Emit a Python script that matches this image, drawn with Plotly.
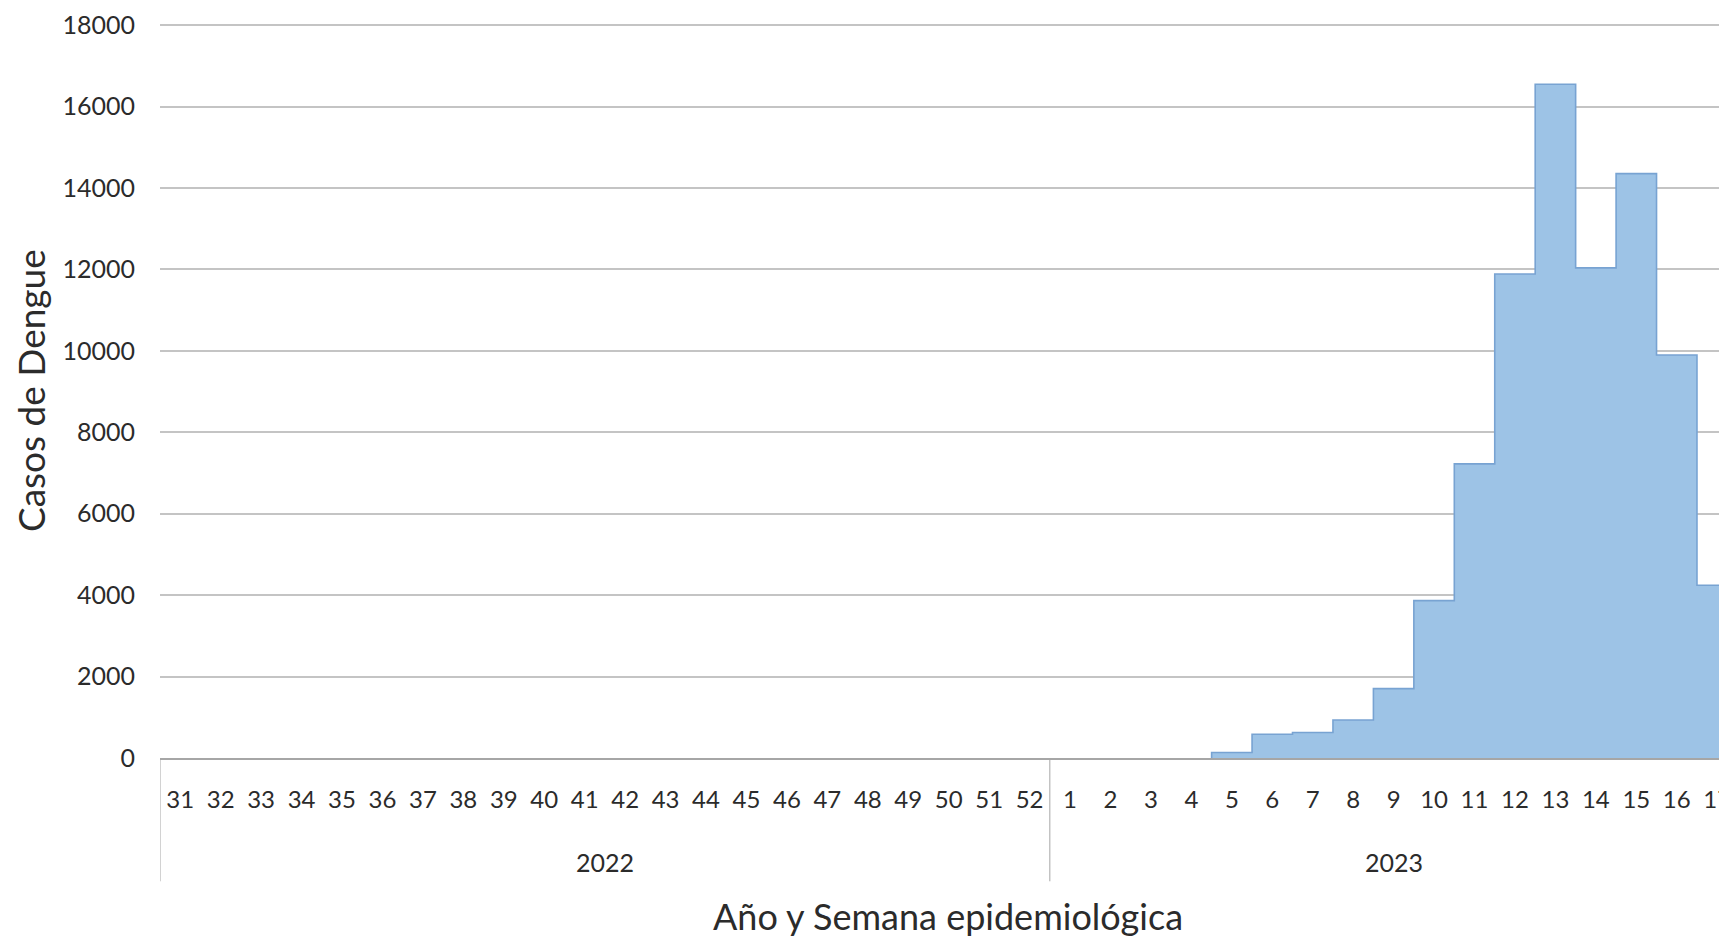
import plotly.graph_objects as go

# Semanas epidemiológicas (2022: 31-52, 2023: 1-17)
weeks_2022 = ["31", "32", "33", "34", "35", "36", "37", "38", "39", "40", "41",
              "42", "43", "44", "45", "46", "47", "48", "49", "50", "51", "52"]
weeks_2023 = ["1", "2", "3", "4", "5", "6", "7", "8", "9", "10", "11", "12",
              "13", "14", "15", "16", "17"]

cases_2022 = [0, 0, 0, 0, 0, 0, 0, 0, 0, 0, 0,
              0, 0, 0, 0, 0, 0, 0, 0, 0, 0, 0]
cases_2023 = [0, 0, 0, 0, 135, 585, 625, 935, 1705, 3865, 7225, 11890,
              16550, 12040, 14355, 9900, 4245]

years = ["2022", "2023"]
y_ticks = [0, 2000, 4000, 6000, 8000, 10000, 12000, 14000, 16000, 18000]

labels = weeks_2022 + weeks_2023
cases = cases_2022 + cases_2023
idx = list(range(len(labels)))

FONT = "Lato"
TXT = "#2b2b2b"
GRID = "#c4c4c4"

fig = go.Figure()

# filled columns, no gaps (histogram look)
fig.add_trace(go.Bar(
    x=idx,
    y=cases,
    marker=dict(color="#9dc3e6", line=dict(width=0)),
    hovertemplate="Semana %{text}: %{y}<extra></extra>",
    text=labels,
    textposition="none",
))

# outline only along the outer step edge, starting at the first non-zero week
first = next(i for i, v in enumerate(cases) if v > 0)
edge_x = [i - 0.5 for i in idx[first:]] + [idx[-1] + 0.5]
edge_y = cases[first:] + [cases[-1]]
fig.add_trace(go.Scatter(
    x=[edge_x[0]] + edge_x, y=[0] + edge_y, mode="lines", line_shape="hv",
    line=dict(color="#78a3d2", width=1.6), hoverinfo="skip",
))

# year groups: centre label + dividers under the axis
n22 = len(weeks_2022)
n23 = len(weeks_2023)
group_bounds = [-0.5, n22 - 0.5, n22 + n23 - 0.5]
group_centres = [(n22 - 1) / 2, n22 + (n23 - 1) / 2]

for yr, xc in zip(years, group_centres):
    fig.add_annotation(x=xc, y=-0.142, xref="x", yref="paper", text=yr,
                       showarrow=False, yanchor="middle",
                       font=dict(family=FONT, size=25, color=TXT))

for xb in group_bounds:
    fig.add_shape(type="line", xref="x", yref="paper", x0=xb, x1=xb,
                  y0=0, y1=-0.168, line=dict(color="#a6a6a6", width=1))

fig.add_annotation(x=0.5, y=-0.2153, xref="paper", yref="paper",
                   text="Año y Semana epidemiológica", showarrow=False,
                   yanchor="middle", xanchor="center",
                   font=dict(family=FONT, size=36, color=TXT))
fig.add_annotation(x=-0.0825, y=0.5, xref="paper", yref="paper",
                   text="Casos de Dengue", showarrow=False, textangle=-90,
                   xanchor="center", yanchor="middle",
                   font=dict(family=FONT, size=37, color=TXT))

# page body has an 8px margin, so margins are trimmed by 8px to compensate
fig.update_layout(
    width=1727,
    height=936,
    margin=dict(l=152, r=0, t=16, b=186, autoexpand=False),
    paper_bgcolor="white",
    plot_bgcolor="white",
    bargap=0,
    showlegend=False,
    font=dict(family=FONT, color=TXT),
)

fig.update_xaxes(
    range=[-0.5, 38.44],
    automargin=False,
    tickmode="array",
    tickvals=idx,
    ticktext=labels,
    tickangle=0,
    tickfont=dict(family=FONT, size=24, color=TXT),
    ticks="",
    ticklabelstandoff=19,
    ticklabeloverflow="allow",
    showgrid=False,
    showline=True,
    linecolor="#a6a6a6",
    linewidth=1.5,
    zeroline=False,
)

fig.update_yaxes(
    range=[0, 18030],
    automargin=False,
    tickmode="array",
    tickvals=y_ticks,
    ticktext=[str(v) for v in y_ticks],
    tickfont=dict(family=FONT, size=25, color=TXT),
    ticklabelstandoff=24,
    showgrid=True,
    gridcolor=GRID,
    gridwidth=1.5,
    zeroline=False,
    showline=False,
)

fig.write_html("out.html")
